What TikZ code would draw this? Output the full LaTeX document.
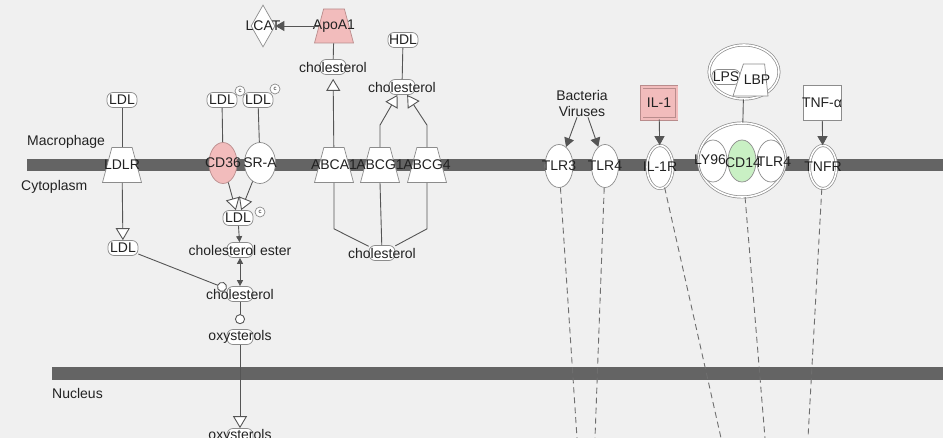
\documentclass[tikz,border=0pt]{standalone}
\usepackage{fontspec}
\setmainfont{Liberation Sans}
\usetikzlibrary{shapes.geometric, arrows.meta}
\definecolor{bg}{HTML}{F0F0F0}
\definecolor{memb}{HTML}{646464}
\definecolor{ln}{HTML}{555555}
\definecolor{bd}{HTML}{8C8C8C}
\definecolor{pinkf}{HTML}{F2BCBC}
\definecolor{pinkb}{HTML}{B98C8C}
\definecolor{greenf}{HTML}{C9F0C4}
\definecolor{txt}{HTML}{222222}
\begin{document}
\begin{tikzpicture}[x=1pt,y=-1pt,
  every node/.style={font=\fontsize{14}{16}\selectfont, text=txt},
  conn/.style={draw=ln, line width=0.9pt},
  chem/.style={draw=bd, line width=0.7pt, fill=white, rounded corners=6pt, minimum width=26pt, minimum height=15pt, inner sep=0pt},
  trap/.style={trapezium, trapezium left angle=75, trapezium right angle=75, trapezium stretches body, draw=bd, line width=0.7pt, fill=white, minimum width=39pt, inner xsep=0pt, inner ysep=17.5pt},
  recep/.style={ellipse, draw=bd, line width=0.7pt, fill=white, minimum width=28pt, minimum height=43pt, inner sep=0pt},
  drecep/.style={recep, double=white, double distance=1.6pt},
  boxnode/.style={rectangle, draw=bd, line width=0.7pt, fill=white, minimum width=38pt, minimum height=35pt, inner sep=0pt},
  marker/.style={circle, draw=bd, line width=0.7pt, fill=white, minimum size=10pt, inner sep=0pt, font=\fontsize{6}{6}\selectfont},
  oarr/.style={conn, -{Triangle[length=12pt, width=14pt, fill=white]}},
  farr/.style={conn, -{Triangle[length=9pt, width=10pt]}},
  sarr/.style={conn, -{Triangle[length=6pt, width=6pt]}},
  darr/.style={conn, {Triangle[length=6pt, width=6pt]}-{Triangle[length=6pt, width=6pt]}},
  carr/.style={conn, -{Circle[length=10pt, fill=white]}},
  dsh/.style={draw=ln!85, line width=0.9pt, dash pattern=on 6pt off 4pt},
  lbl/.style={inner sep=0pt}
]
\useasboundingbox (0,0) rectangle (943,438);
\clip (0,0) rectangle (943,438);
\fill[bg] (0,0) rectangle (943,438);
% membranes
\fill[memb] (27,159) rectangle (943,171);
\fill[memb] (52,367) rectangle (943,380);
% compartment labels
\node[anchor=west, inner sep=0pt] (macro) at (27,142) {Macrophage};
\node[anchor=west, inner sep=0pt] (cyto) at (21,187) {Cytoplasm};
\node[anchor=west, inner sep=0pt] (nuc) at (52,393) {Nucleus};

% left pathway
\node[chem, minimum width=30pt, label={[lbl]center:LDL}] (ldl1) at (122,100) {};
\node[trap, label={[lbl]center:LDLR}] (ldlr) at (122,165) {};
\node[chem, minimum width=30pt, label={[lbl]center:LDL}] (ldl3) at (123,248) {};
\node[chem, minimum width=30pt, label={[lbl]center:LDL}] (ldl2a) at (222,100) {};
\node[marker] (m1) at (240,91) {c};
\node[chem, minimum width=30pt, label={[lbl]center:LDL}] (ldl2b) at (258,100) {};
\node[marker] (m2) at (275,89) {c};
\node[recep, fill=pinkf, draw=pinkb, minimum width=28pt, minimum height=41pt, label={[lbl]center:CD36}] (cd36) at (223,163) {};
\node[recep, minimum width=31pt, minimum height=41pt, label={[lbl]center:SR-A}] (sra) at (260,163) {};
\node[chem, minimum width=30pt, label={[lbl]center:LDL}] (ldl4) at (238,218) {};
\node[marker] (m3) at (260,212) {c};
\node[chem, label={[lbl]center:cholesterol ester}] (chole) at (240,250) {};
\node[chem, label={[lbl]center:cholesterol}] (chol3) at (240,294) {};
\node[chem, label={[lbl]center:oxysterols}] (ox1) at (240,337) {};
\node[chem, label={[lbl]center:oxysterols}] (ox2) at (240,436) {};

% transporters
\node[diamond, draw=bd, line width=0.7pt, fill=white, minimum width=24pt, minimum height=42pt, inner sep=0pt, label={[lbl]center:LCAT}] (lcat) at (263,26) {};
\node[trap, fill=pinkf, draw=pinkb, inner ysep=17pt, label={[lbl]center:ApoA1}] (apoa1) at (334,26) {};
\node[chem, label={[lbl]center:cholesterol}] (chol1) at (333,67) {};
\node[trap, label={[lbl]center:ABCA1}] (abca1) at (334,165) {};
\node[chem, minimum width=30pt, label={[lbl]center:HDL}] (hdl) at (403,40) {};
\node[chem, label={[lbl]center:cholesterol}] (chol2) at (402,87) {};
\node[trap, label={[lbl]center:ABCG1}] (abcg1) at (380,165) {};
\node[trap, label={[lbl]center:ABCG4}] (abcg4) at (427,165) {};
\node[chem, label={[lbl]center:cholesterol}] (chol4) at (382,253) {};

% right side
\node[align=center, inner sep=1pt] (bact) at (582,103) {Bacteria\\Viruses};
\node[recep, label={[lbl]center:TLR3}] (tlr3) at (559,166) {};
\node[recep, minimum width=27pt, label={[lbl]center:TLR4}] (tlr4a) at (605,166) {};
\node[boxnode, fill=pinkf, draw=pinkb, double=pinkf, double distance=2pt, minimum width=35pt, minimum height=32pt, label={[lbl]center:IL-1}] (il1) at (659,103) {};
\node[drecep, minimum width=26pt, label={[lbl]center:IL-1R}] (il1r) at (660,167) {};
\node[ellipse, draw=bd, line width=0.7pt, fill=white, double=white, double distance=1.6pt, minimum width=70pt, minimum height=54pt, inner sep=0pt] (lpslbp) at (744,72) {};
\node[chem, minimum width=28pt, label={[lbl]center:LPS}] (lps) at (726,77) {};
\node[trapezium, trapezium left angle=72, trapezium right angle=84, trapezium stretches body, draw=bd, line width=0.7pt, fill=white, minimum width=35pt, inner xsep=0pt, inner ysep=16pt] (lbpshape) at (754,80) {};
\node[lbl] (lbp) at (757,80) {LBP};
\node[ellipse, draw=bd, line width=0.7pt, fill=white, double=white, double distance=1.6pt, minimum width=87pt, minimum height=74pt, inner sep=0pt] (cplx) at (742,160) {};
\node[recep, minimum height=42pt] (ly96) at (713,161) {};
\node[recep, minimum height=42pt, fill=greenf, draw=bd] (cd14) at (742,161) {};
\node[recep, minimum height=42pt] (tlr4b) at (771,161) {};
\node[lbl] (ly96t) at (710,160) {LY96};
\node[lbl] (cd14t) at (743,163) {CD14};
\node[lbl] (tlr4t) at (774,162) {TLR4};
\node[boxnode, label={[lbl]center:TNF-α}] (tnf) at (822,103) {};
\node[drecep, minimum width=27pt, label={[lbl]center:TNFR}] (tnfr) at (823,167) {};

\coordinate (e1) at (577,438);
\coordinate (e2) at (595,438);
\coordinate (e3) at (721,438);
\coordinate (e4) at (765,438);
\coordinate (e5) at (808,438);

% connectors
\draw[conn] (ldl1) -- (ldlr);
\draw[oarr] (ldlr) -- (ldl3);
\draw[carr] (ldl3) -- (chol3);
\draw[conn] (ldl2a) -- (cd36);
\draw[conn] (ldl2b) -- (sra);
\draw[oarr] (cd36) -- (ldl4);
\draw[oarr] (sra) -- (ldl4);
\draw[sarr] (ldl4) -- (chole);
\draw[darr] (chole) -- (chol3);
\draw[carr, shorten >=5pt] (chol3) -- (ox1);
\draw[oarr] (ox1) -- (ox2);
\draw[farr] (apoa1) -- (lcat);
\draw[conn] (apoa1) -- (chol1);
\draw[oarr, shorten >=4pt] (abca1) -- (chol1);
\draw[conn] (hdl) -- (chol2);
\draw[oarr] (abcg1.north) -- ++(0,-22) -- (chol2);
\draw[oarr] (abcg4.north) -- ++(0,-22) -- (chol2);
\draw[conn] (abca1.south) -- ++(0,46) -- (chol4);
\draw[conn] (abcg1.south) -- (chol4);
\draw[conn] (abcg4.south) -- ++(0,46) -- (chol4);
\draw[farr] ([xshift=-5pt]bact.south) -- (tlr3);
\draw[farr] ([xshift=6pt]bact.south) -- (tlr4a);
\draw[farr] (il1) -- (il1r);
\draw[farr] (tnf) -- (tnfr);
\draw[conn] (lpslbp) -- (cplx);
\draw[dsh] (tlr3) -- (e1);
\draw[dsh] (tlr4a) -- (e2);
\draw[dsh] (il1r) -- (e3);
\draw[dsh] (cplx) -- (e4);
\draw[dsh] (tnfr) -- (e5);
\end{tikzpicture}
\end{document}
